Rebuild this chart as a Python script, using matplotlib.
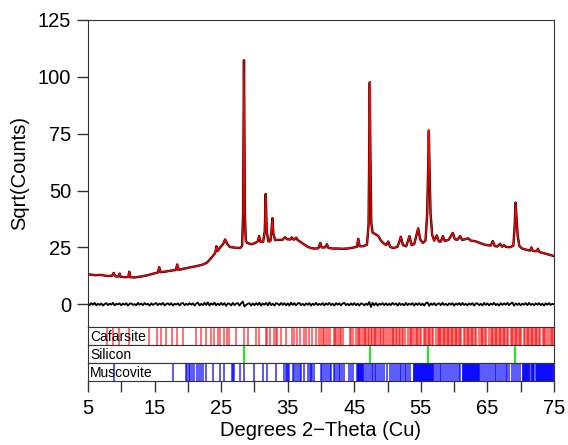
import numpy as np
import matplotlib
matplotlib.use("Agg")
import matplotlib.pyplot as plt

plt.rcParams["font.family"] = ["Liberation Sans", "DejaVu Sans"]

# calculated profile, points (2-theta, sqrt counts)
calc_x = [5.0, 6.0, 7.0, 7.5, 8.0, 8.6, 8.85, 9.1, 9.6, 9.75, 9.9, 10.5, 11.05, 11.2, 11.35,
          12.0, 13.0, 14.0, 15.0, 15.5, 15.7, 15.9, 16.5, 17.5, 18.2, 18.4, 18.6, 19.5, 20.5,
          21.5, 22.3, 22.9, 23.4, 23.9, 24.1, 24.3, 24.5, 24.9, 25.3, 25.6, 25.9, 26.3, 27.0,
          27.8, 28.15, 28.3, 28.38, 28.43, 28.48, 28.56, 28.7, 28.9, 29.2, 29.6, 30.0, 30.5,
          30.7, 30.9, 31.3, 31.55, 31.7, 31.85, 32.1, 32.4, 32.55, 32.7, 32.85, 33.1, 33.6,
          34.2, 34.6, 34.9, 35.4, 35.6, 35.9, 36.3, 36.5, 37.0, 37.5, 38.0, 38.5, 39.0, 39.6,
          39.9, 40.1, 40.6, 40.9, 41.1, 41.8, 42.5, 43.2, 44.0, 44.8, 45.4, 45.6, 45.8, 46.3,
          46.9, 47.15, 47.25, 47.33, 47.42, 47.55, 47.75, 48.2, 48.6, 49.0, 49.4, 49.8, 50.1,
          50.4, 50.9, 51.5, 52.0, 52.3, 52.8, 53.3, 53.6, 54.0, 54.6, 54.9, 55.3, 55.7, 55.95,
          56.1, 56.2, 56.3, 56.45, 56.7, 57.0, 57.4, 57.7, 58.0, 58.3, 58.6, 59.2, 59.8, 60.1,
          60.5, 60.9, 61.2, 61.7, 62.1, 62.5, 63.0, 63.4, 64.0, 64.5, 64.9, 65.5, 65.8, 66.1,
          66.5, 66.9, 67.2, 67.5, 67.8, 68.4, 68.9, 69.1, 69.22, 69.32, 69.42, 69.55, 69.8,
          70.2, 70.8, 71.4, 71.6, 71.8, 72.4, 72.6, 72.8, 73.4, 74.0, 74.5, 75.0]
calc_y = [13.2, 12.8, 12.9, 12.6, 12.4, 12.5, 13.8, 12.3, 12.2, 13.5, 12.1, 11.9, 12.0, 14.3, 11.9,
          11.8, 12.2, 12.8, 13.6, 14.0, 16.3, 14.1, 14.3, 14.8, 15.1, 17.5, 15.1, 15.7, 16.3,
          16.9, 17.5, 18.4, 20.0, 21.8, 22.5, 25.5, 23.5, 25.2, 26.5, 28.5, 26.6, 25.2, 24.9,
          24.7, 25.6, 40.0, 80.0, 107.3, 80.0, 40.0, 28.0, 27.0, 26.7, 26.4, 26.8, 27.6,
          30.0, 27.5, 27.4, 32.0, 48.5, 32.0, 27.6, 27.8, 32.0, 37.8, 31.0, 28.2, 28.3,
          28.3, 29.5, 28.6, 28.5, 29.4, 28.4, 29.3, 28.2, 27.3, 26.2, 25.3, 24.7, 24.5, 24.6,
          27.0, 25.0, 25.0, 26.4, 24.8, 24.5, 24.5, 24.4, 24.5, 24.9, 25.3, 28.8, 25.5, 25.5,
          26.2, 35.0, 70.0, 97.6, 65.0, 36.0, 31.5, 30.8, 30.0, 28.0, 26.8, 26.0, 27.6,
          25.2, 24.7, 25.3, 29.7, 26.0, 25.5, 30.0, 26.0, 26.5, 33.4, 28.5, 27.0, 28.0, 40.0,
          60.0, 76.4, 60.0, 40.0, 30.5, 28.0, 30.3, 27.6, 27.6, 30.0, 27.8, 28.4, 31.4, 28.6,
          28.4, 30.0, 28.3, 28.6, 29.0, 28.0, 27.8, 27.5, 26.8, 26.3, 26.0, 25.8, 27.8, 25.6,
          25.4, 26.6, 25.3, 26.0, 25.2, 25.1, 25.8, 35.0, 44.7, 40.0, 36.0, 30.0, 25.6,
          24.5, 24.0, 23.6, 25.0, 23.5, 23.3, 24.4, 23.0, 22.5, 22.0, 21.6, 21.2]

# difference curve (obs - calc), every 0.25 deg from 5 to 75
diff_y = [0.3, -0.4, 0.5, -0.2, 0.6, -0.5, 0.2, -0.3, 0.4, -0.6, 0.1, 0.5, -0.4, 0.3, -0.2, 0.6, -0.5, 0.2, -0.1, 0.4,
          -0.5, 0.3, -0.2, 0.5, -0.6, 0.2, 0.4, -0.3, 0.1, -0.5, 0.6, -0.2, 0.3, -0.4, 0.5, -0.1, 0.2, -0.6, 0.4, -0.3,
          0.2, 0.5, -0.4, 0.3, -0.2, 0.6, -0.5, 0.1, 0.4, -0.3, 0.5, -0.6, 0.2, -0.1, 0.4, -0.5, 0.3, 0.6, -0.4, 0.2,
          -0.3, 0.5, -0.2, 0.4, -0.6, 0.3, 0.7, -0.5, 0.2, -0.4, 0.6, -0.3, 0.8, -0.6, 0.4, -0.2, 0.7, -0.5, 0.3, -0.4,
          0.6, -0.3, 0.5, -0.7, 0.4, 0.2, -0.5, 0.6, -0.4, 0.3, 0.5, -0.6, 0.4, 1.2, -1.0, -0.3, 0.2, 0.5, -0.6, 0.4,
          -0.4, 0.5, -0.3, 0.7, -0.6, 0.4, -0.2, 0.6, -0.5, 0.8, -0.4, 0.3, -0.6, 0.5, 0.2, -0.4, 0.6, -0.3, 0.5, -0.5,
          0.4, -0.6, 0.7, -0.3, 0.5, -0.5, 0.3, 0.6, -0.4, 0.2, -0.5, 0.4, -0.2, 0.5, -0.6, 0.3, -0.3, 0.6, -0.4, 0.2,
          -0.3, 0.5, -0.5, 0.4, -0.2, 0.6, -0.4, 0.3, -0.6, 0.5, -0.2, 0.4, -0.5, 0.3, 0.6, -0.4, 0.2, -0.5, 0.4, -0.3,
          0.5, -0.4, 0.3, -0.6, 0.4, 0.2, -0.5, 0.3, -0.3, 1.0, -1.2, 0.6, -0.4, 0.5, -0.6, 0.3, -0.2, 0.5, -0.4, 0.4,
          -0.5, 0.3, -0.4, 0.6, -0.2, 0.4, -0.6, 0.5, -0.3, 0.2, -0.5, 0.6, -0.4, 0.3, -0.2, 0.5, -0.6, 0.4, -0.3, 0.5,
          -0.4, 0.3, -0.6, 0.5, 0.8, -0.7, 0.4, -0.3, 0.5, -0.5, 0.2, 0.4, -0.4, 0.6, -0.3, 0.2, -0.5, 0.4, -0.2, 0.5,
          -0.6, 0.3, -0.2, 0.5, -0.4, 0.6, -0.3, 0.2, -0.5, 0.4, -0.2, 0.5, -0.6, 0.3, 0.4, -0.4, 0.2, -0.5, 0.6, -0.3,
          0.4, -0.5, 0.3, -0.2, 0.6, -0.4, 0.2, -0.6, 0.5, -0.3, 0.4, -0.2, 0.6, -0.4, 0.3, 0.7, -0.6, 0.4, -0.3, 0.4,
          -0.5, 0.3, -0.2, 0.5, -0.4, 0.6, -0.3, 0.2, -0.5, 0.4, -0.2, 0.5, -0.4, 0.3, -0.6, 0.4, -0.2, 0.5, -0.3, 0.2,
          0.0]
diff_x = np.linspace(5, 75, len(diff_y))

# reflection positions of each phase
cafarsite = [7.8, 8.8, 9.7, 11.1, 14.2, 15.3, 15.95, 16.7, 17.6, 18.3, 19.3, 21.2, 21.9, 22.8, 23.5,
             23.9, 24.5, 24.9, 25.4, 25.9, 26.2, 27.3, 28.5, 29.0, 30.2, 30.7, 31.7, 31.9, 32.4,
             32.9, 33.2, 33.4, 34.0, 34.7, 35.7, 36.0, 36.4, 36.9, 37.4, 37.8, 38.2, 38.7, 39.2,
             39.7, 40.0, 40.3, 40.5, 40.8, 41.0, 41.3, 41.9, 42.1, 42.3, 42.6, 42.8, 43.0, 43.3,
             44.3, 44.5, 44.8, 45.3, 45.5, 45.7, 45.9, 46.2, 46.4, 46.6, 46.8, 47.0, 47.2, 47.5,
             47.7, 47.9, 48.1, 48.3, 48.6, 48.8, 49.0, 49.3, 49.5, 49.7, 50.0, 50.4, 50.6, 50.8,
             51.0, 51.2, 51.4, 51.7, 51.9, 52.1, 52.3, 52.6, 53.1, 53.3, 53.5, 53.7, 54.0, 54.2,
             54.4, 54.6, 54.8, 55.0, 55.4, 55.6, 55.8, 56.0, 56.2, 56.4, 56.6, 56.8, 57.3, 57.5,
             57.7, 57.9, 58.1, 58.3, 58.5, 58.7, 58.9, 59.1, 59.3, 59.5, 59.7, 59.9, 60.1, 60.3,
             60.5, 60.7, 60.9, 61.1, 61.5, 61.7, 61.9, 62.1, 62.3, 62.5, 62.7, 62.9, 63.1, 63.3,
             63.8, 64.0, 64.2, 64.4, 64.6, 64.8, 65.3, 65.5, 65.7, 65.9, 66.1, 66.3, 66.5, 66.7,
             66.9, 67.1, 67.3, 67.5, 67.7, 67.9, 68.1, 68.5, 68.7, 68.9, 69.1, 69.3, 69.5, 69.7,
             69.9, 70.1, 70.5, 70.7, 70.9, 71.1, 71.3, 71.5, 71.7, 71.9, 72.1, 72.3, 72.5, 72.7,
             72.9, 73.3, 73.5, 73.7, 73.9, 74.3, 74.5, 74.7, 74.9]
silicon = [28.44, 47.30, 56.12, 69.13]
muscovite = [8.86, 17.8, 19.7, 19.9, 20.1, 20.3, 20.6, 20.9, 21.3, 21.6, 22.0, 22.2, 22.7, 23.8,
             24.9, 25.5, 26.7, 26.85, 27.0, 27.9, 28.5, 30.0, 31.3, 31.9, 33.3, 34.5, 34.7, 34.9,
             35.0, 35.2, 35.8, 36.0, 36.2, 36.5, 36.8, 37.0, 37.4, 38.0, 38.3, 38.5, 38.7, 38.9,
             40.0, 40.2, 40.5, 40.8, 41.0, 41.3, 41.5, 41.9, 42.1, 42.4, 42.7, 42.9, 43.2, 43.5,
             44.2, 44.5, 44.8, 45.4, 45.5, 45.6, 45.7, 45.8, 45.9, 46.0, 46.1, 46.2, 46.3, 46.4,
             46.8, 47.0, 47.3, 47.6, 47.8, 48.1, 48.3, 48.5, 48.9, 49.2, 49.5, 49.9, 50.4, 50.7,
             51.0, 51.3, 51.5, 51.8, 52.0, 52.3, 52.6, 52.8, 53.1, 53.4, 53.9, 54.0, 54.1, 54.2,
             54.3, 54.4, 54.5, 54.6, 54.7, 54.8, 54.9, 55.0, 55.1, 55.2, 55.3, 55.4, 55.5, 55.6,
             55.7, 55.8, 55.9, 56.0, 56.1, 56.2, 56.3, 56.4, 56.5, 56.6, 56.7, 56.8, 56.9, 57.3,
             57.6, 57.9, 58.1, 58.4, 58.7, 59.0, 59.3, 59.5, 59.8, 60.1, 60.4, 60.7, 60.9, 61.3,
             61.4, 61.5, 61.6, 61.7, 61.8, 61.9, 62.0, 62.1, 62.2, 62.3, 62.4, 62.5, 62.6, 62.7,
             62.8, 62.9, 63.0, 63.1, 63.2, 63.3, 63.4, 63.5, 63.6, 63.7, 63.8, 64.1, 64.4, 64.7,
             65.0, 65.2, 65.5, 65.8, 66.1, 66.3, 66.6, 66.9, 67.2, 67.5, 67.8, 68.0, 68.3, 68.7,
             69.0, 69.3, 69.6, 69.9, 70.3, 70.4, 70.5, 70.6, 70.7, 70.8, 70.9, 71.0, 71.1, 71.2,
             71.3, 71.6, 71.7, 71.8, 71.9, 72.0, 72.3, 72.4, 72.5, 72.6, 72.7, 72.8, 72.9, 73.0,
             73.1, 73.2, 73.3, 73.4, 73.5, 73.6, 73.7, 73.8, 73.9, 74.0, 74.1, 74.2, 74.3, 74.4,
             74.5, 74.6, 74.7, 74.8, 74.9]

phases = [("Cafarsite", cafarsite, "#ff0000", 0.6),
          ("Silicon", silicon, "#00ee00", 1.0),
          ("Muscovite", muscovite, "#0000ff", 0.7)]

spine_c = "#333333"
fig = plt.figure(figsize=(5.68, 4.45), dpi=100)

left, width = 88 / 568, 466 / 568
ax = fig.add_axes([left, 1 - 327 / 445, width, 307 / 445])
ax.plot(calc_x, calc_y, color="black", lw=1.7)
ax.plot(calc_x, calc_y, color="red", lw=1.0)
ax.plot(diff_x, diff_y, color="black", lw=1.3)
ax.set_xlim(5, 75)
ax.set_ylim(-10, 125)
ax.set_yticks([0, 25, 50, 75, 100, 125])
ax.set_xticks([])
ax.tick_params(axis="y", length=8, width=1, color=spine_c, labelsize=14.5, pad=4)
ax.set_ylabel("Sqrt(Counts)", fontsize=14.5, labelpad=6)
for s in ax.spines.values():
    s.set_color(spine_c)

row_h = 18 / 445
for i, (name, pos, col, al) in enumerate(phases):
    rax = fig.add_axes([left, 1 - (345 + 18 * i) / 445, width, row_h])
    rax.vlines(pos, 0, 1, colors=col, lw=1.3, alpha=al)
    rax.text(0.004, 0.45, name, transform=rax.transAxes, fontsize=10, va="center", ha="left")
    rax.set_xlim(5, 75)
    rax.set_ylim(0, 1)
    rax.set_yticks([])
    for s in rax.spines.values():
        s.set_color(spine_c)
    if i < 2:
        rax.set_xticks([])
    else:
        rax.set_xticks(range(5, 80, 5))
        rax.set_xticklabels([str(t) if t % 10 == 5 else "" for t in range(5, 80, 5)])
        rax.tick_params(axis="x", length=8, width=1, color=spine_c, labelsize=14.5, pad=5)
        rax.set_xlabel("Degrees 2\u2212Theta (Cu)", fontsize=14.5, labelpad=2)

fig.savefig("out.png", dpi=100)
